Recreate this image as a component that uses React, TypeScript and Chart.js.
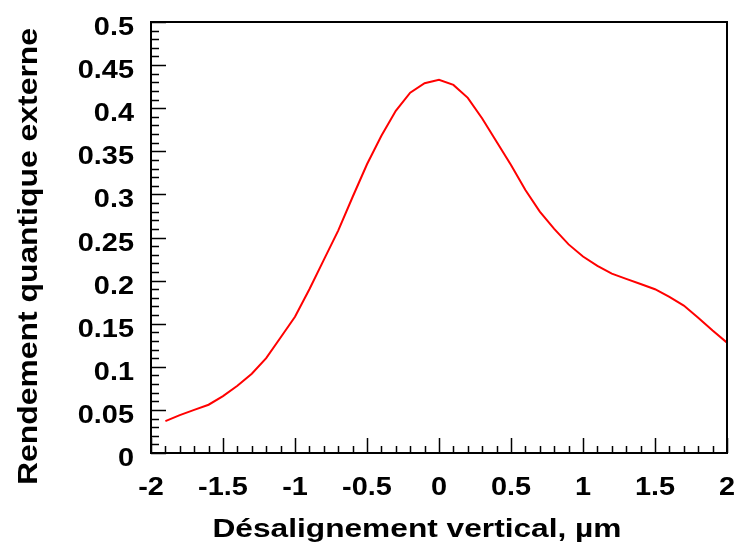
import React, { useEffect, useRef } from "react";
import { Chart, registerables } from "chart.js";

Chart.register(...registerables);

const xValues = [-1.9, -1.8, -1.7, -1.6, -1.5, -1.4, -1.3, -1.2, -1.1, -1.0, -0.9, -0.8, -0.7, -0.6, -0.5, -0.4, -0.3, -0.2, -0.1, 0.0, 0.1, 0.2, 0.3, 0.4, 0.5, 0.6, 0.7, 0.8, 0.9, 1.0, 1.1, 1.2, 1.3, 1.4, 1.5, 1.6, 1.7, 1.8, 1.9, 2.0];
const yieldValues = [0.037, 0.044, 0.05, 0.056, 0.066, 0.078, 0.092, 0.11, 0.134, 0.158, 0.19, 0.224, 0.258, 0.297, 0.335, 0.368, 0.397, 0.418, 0.429, 0.433, 0.427, 0.412, 0.388, 0.361, 0.334, 0.305, 0.28, 0.26, 0.242, 0.228, 0.217, 0.208, 0.202, 0.196, 0.19, 0.181, 0.171, 0.157, 0.142, 0.128];

const xTitle = "Désalignement vertical, µm";
const yTitle = "Rendement quantique externe";

const FONT = "'Liberation Sans', Arial, sans-serif";

const fmt = (v: number) => String(Number(v.toFixed(2)));

function stretchedText(ctx: any, text: string, x: number, y: number, sx: number, align: string) {
  ctx.save();
  ctx.translate(x, y);
  ctx.scale(sx, 1);
  ctx.textAlign = align;
  ctx.fillText(text, 0, 0);
  ctx.restore();
}

const axesDecor = {
  id: "axesDecor",
  afterDraw(chart: any) {
    const { ctx, chartArea } = chart;
    const xs = chart.scales.x;
    const ys = chart.scales.y;
    ctx.save();
    // frame
    ctx.strokeStyle = "#000";
    ctx.lineWidth = 2;
    ctx.strokeRect(chartArea.left, chartArea.top, chartArea.right - chartArea.left, chartArea.bottom - chartArea.top);
    // inner ticks
    ctx.lineWidth = 1.5;
    ctx.beginPath();
    for (let i = 0; i <= 40; i++) {
      const v = -2 + i * 0.1;
      const px = Math.round(xs.getPixelForValue(v)) + 0.5;
      const len = i % 5 === 0 ? 15 : 7;
      ctx.moveTo(px, chartArea.bottom);
      ctx.lineTo(px, chartArea.bottom - len);
    }
    for (let i = 0; i <= 50; i++) {
      const v = i * 0.01;
      const py = Math.round(ys.getPixelForValue(v)) + 0.5;
      const len = i % 5 === 0 ? 15 : 8;
      ctx.moveTo(chartArea.left, py);
      ctx.lineTo(chartArea.left + len, py);
    }
    ctx.stroke();

    // tick labels
    ctx.fillStyle = "#000";
    ctx.textBaseline = "alphabetic";
    ctx.font = `bold 26.5px ${FONT}`;
    ys.ticks.forEach((t: any) => {
      const py = ys.getPixelForValue(t.value);
      stretchedText(ctx, fmt(t.value), chartArea.left - 17, py + 13, 1.09, "right");
    });
    xs.ticks.forEach((t: any) => {
      const px = xs.getPixelForValue(t.value);
      stretchedText(ctx, fmt(t.value), px, chartArea.bottom + 42, 1.09, "center");
    });

    // axis titles
    ctx.font = `bold 26.5px ${FONT}`;
    const xw = ctx.measureText(xTitle).width;
    stretchedText(ctx, xTitle, 417, 537, 409 / xw, "center");

    ctx.font = `bold 28px ${FONT}`;
    const yw = ctx.measureText(yTitle).width;
    ctx.save();
    ctx.translate(37, 256.5);
    ctx.rotate(-Math.PI / 2);
    ctx.scale(457 / yw, 1);
    ctx.textAlign = "center";
    ctx.fillText(yTitle, 0, 0);
    ctx.restore();

    ctx.restore();
  },
};

export default function App() {
  const ref = useRef<HTMLCanvasElement>(null);
  useEffect(() => {
    if (!ref.current) return;
    const chart = new Chart(ref.current, {
      type: "line",
      data: {
        datasets: [
          {
            data: xValues.map((x, i) => ({ x, y: yieldValues[i] })),
            borderColor: "#ff0000",
            borderWidth: 2,
            pointRadius: 0,
            tension: 0,
            fill: false,
          },
        ],
      },
      options: {
        animation: false,
        responsive: false,
        maintainAspectRatio: false,
        layout: { padding: { left: 0, right: 8, top: 22, bottom: 0 } },
        plugins: { legend: { display: false }, tooltip: { enabled: false } },
        scales: {
          x: {
            type: "linear",
            min: -2,
            max: 2,
            grid: { display: false },
            border: { display: false },
            ticks: { stepSize: 0.5, display: false },
            afterFit: (s: any) => {
              s.height = 91;
              s.paddingLeft = 0;
              s.paddingRight = 0;
            },
          },
          y: {
            type: "linear",
            min: 0,
            max: 0.5,
            grid: { display: false },
            border: { display: false },
            ticks: { stepSize: 0.05, display: false },
            afterFit: (s: any) => {
              s.width = 151;
              s.paddingTop = 0;
              s.paddingBottom = 0;
            },
          },
        },
      },
      plugins: [axesDecor],
    });
    return () => chart.destroy();
  }, []);
  return (
    <div style={{ position: "fixed", left: 0, top: 0, width: 735, height: 544, background: "#fff" }}>
      <canvas ref={ref} width={735} height={544} style={{ display: "block" }} />
    </div>
  );
}
